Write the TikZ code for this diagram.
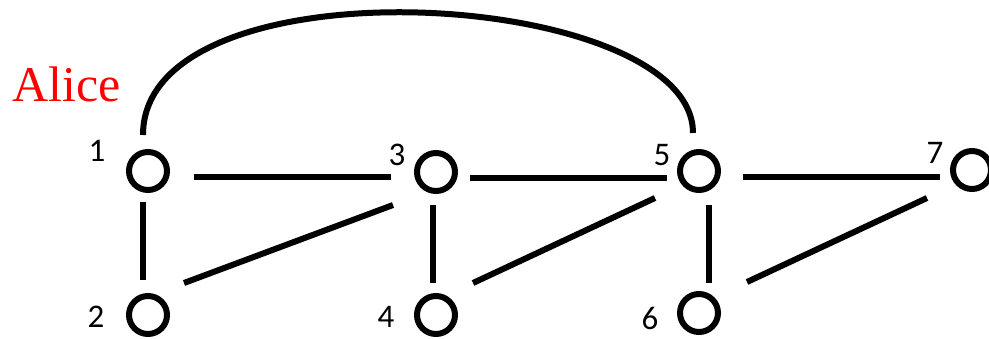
\documentclass[tikz,border=0pt]{standalone}
\usepackage{fontspec}
\setmainfont{Liberation Serif}
\newfontfamily\numfont{Carlito}
\usetikzlibrary{positioning}

\begin{document}
\begin{tikzpicture}[
    x=1pt, y=-1pt,
    vertex/.style={circle, draw, line width=6pt, minimum size=38pt, inner sep=0pt},
    edge/.style={line width=6pt},
    num/.style={font=\numfont\fontsize{33}{33}\selectfont, inner sep=0pt},
    player/.style={font=\fontsize{50}{50}\selectfont, text=red, inner sep=0pt}
]
\useasboundingbox (0,0) rectangle (989,338);

% Vertices
\node[vertex] (n1) at (148,171) {};
\node[vertex] (n2) at (148,315) {};
\node[vertex] (n3) at (436,172) {};
\node[vertex] (n4) at (436,315) {};
\node[vertex] (n5) at (699,171) {};
\node[vertex] (n6) at (699,313) {};
\node[vertex] (n7) at (972,170) {};

% Vertex numbers
\node[num] (l1) at (97,151) {1};
\node[num] (l2) at (96,317) {2};
\node[num] (l3) at (397,155) {3};
\node[num] (l4) at (386,317) {4};
\node[num] (l5) at (662,155) {5};
\node[num] (l6) at (650,318) {6};
\node[num] (l7) at (935,153) {7};

% Player
\node[player] (alice) at (67,84) {Alice};

% Horizontal edges
\draw[edge] ([shift={(46,6)}]n1.center) -- ([shift={(-45,5)}]n3.center);
\draw[edge] ([shift={(34,6)}]n3.center) -- ([shift={(-32,7)}]n5.center);
\draw[edge] ([shift={(44,6)}]n5.center) -- ([shift={(-32,7)}]n7.center);

% Vertical edges
\draw[edge] ([shift={(-5,31)}]n1.center) -- ([shift={(-5,-35)}]n2.center);
\draw[edge] ([shift={(-3,33)}]n3.center) -- ([shift={(-3,-32)}]n4.center);
\draw[edge] ([shift={(10,34)}]n5.center) -- ([shift={(10,-30)}]n6.center);

% Diagonal edges
\draw[edge] ([shift={(36,-32)}]n2.center) -- ([shift={(-43,33)}]n3.center);
\draw[edge] ([shift={(37,-32)}]n4.center) -- ([shift={(-44,27)}]n5.center);
\draw[edge] ([shift={(48,-31)}]n6.center) -- ([shift={(-45,28)}]n7.center);

% Arc from 1 to 5
\draw[edge] ([shift={(-5,-36)}]n1.center) .. controls (143,-44) and (693,-12) .. ([shift={(-6,-38)}]n5.center);

\end{tikzpicture}
\end{document}
